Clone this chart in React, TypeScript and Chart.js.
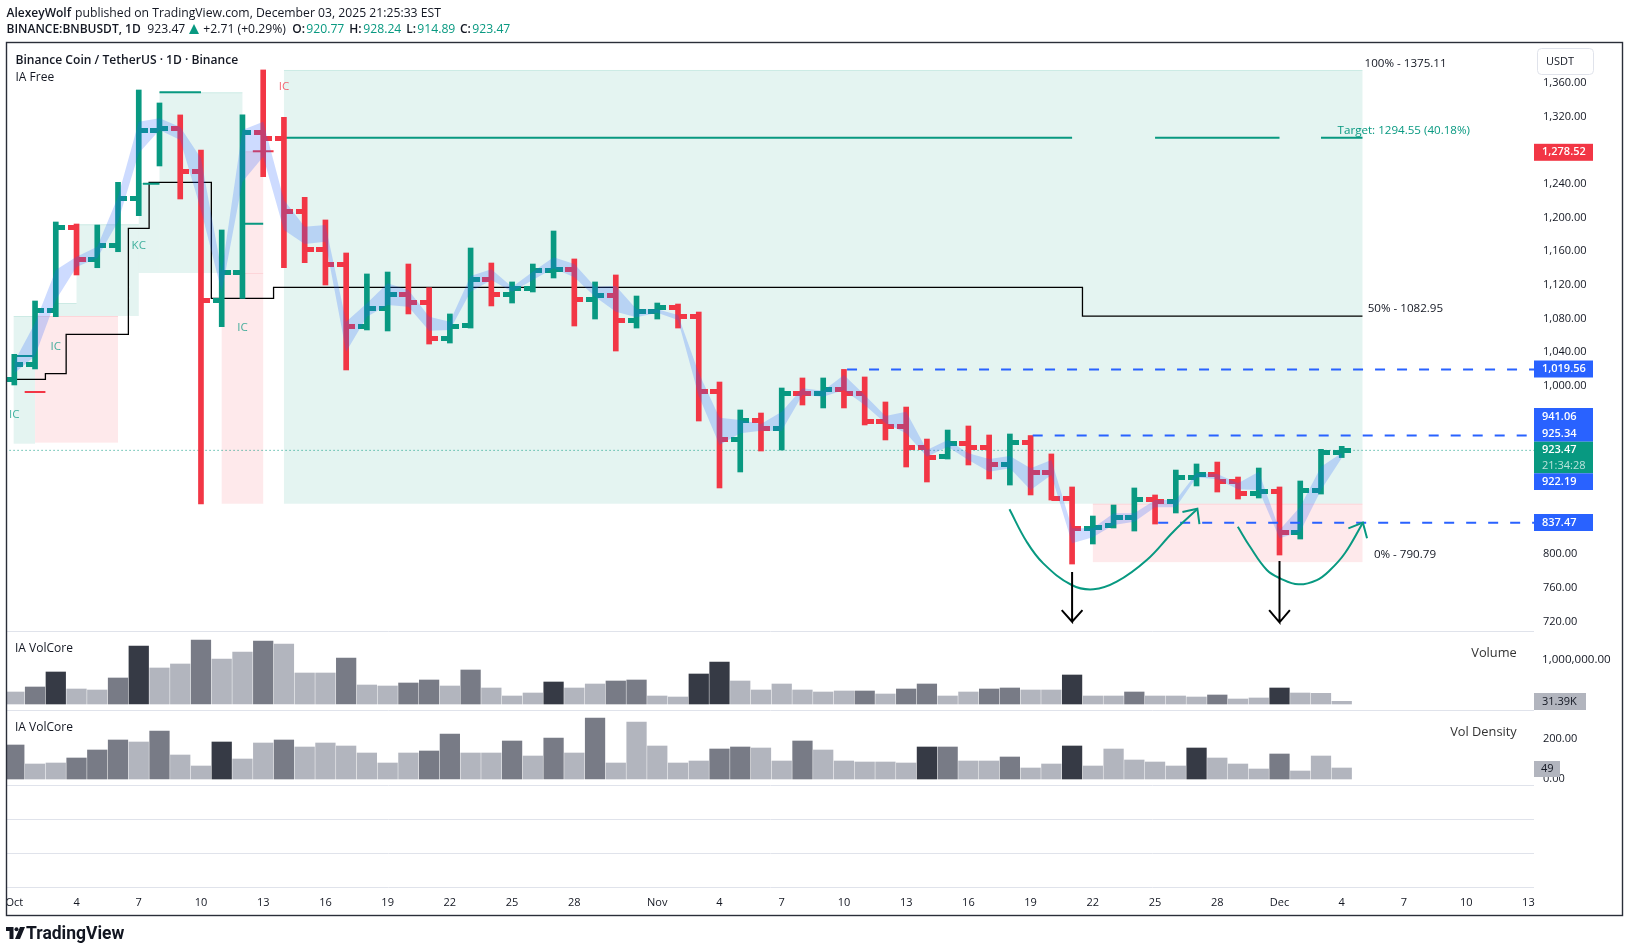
import React, { useEffect, useRef } from "react";
import { Chart, registerables } from "chart.js";

Chart.register(...registerables);

const UP = "#089981";
const DOWN = "#F23645";
const BLUE = "#2962FF";
const TEXT = "#131722";
const FONT = '"Open Sans", sans-serif';
const SHADES = ["#B2B5BE", "#787B86", "#363A45"];

const opens = [1007.8,1025.6,1089.8,1188.3,1150.3,1166.9,1222.7,1303.5,1305.9,1254.8,1101.6,1134.9,1301.1,1294.0,1207.3,1162.2,1144.4,1070.8,1092.1,1108.8,1099.3,1056.5,1072.0,1126.6,1108.8,1115.9,1137.3,1138.4,1102.8,1107.6,1077.9,1088.6,1093.3,1082.6,993.6,936.6,959.2,949.6,991.2,990.9,996.0,991.2,958.0,952.0,927.1,916.4,931.8,927.1,906.9,933.0,897.4,866.5,830.9,834.5,844.0,865.4,863.0,891.5,895.0,886.7,872.5,874.8,826.2,876.0,920.77];
const highs = [1037.5,1100.8,1194.6,1192.2,1191.0,1241.7,1351.3,1335.9,1321.7,1280.1,1185.1,1321.7,1375.11,1318.9,1223.9,1197.0,1157.8,1132.9,1135.2,1144.7,1116.6,1085.4,1163.7,1145.9,1123.4,1144.7,1183.9,1150.7,1123.4,1131.7,1106.7,1098.4,1097.2,1087.7,1004.6,971.4,967.8,997.5,1009.4,1009.4,1019.56,1010.6,980.9,974.9,936.9,947.6,952.4,941.7,942.9,941.06,919.2,880.0,845.5,858.6,878.8,870.5,900.1,907.3,909.6,891.8,902.5,880.0,887.1,924.7,928.24];
const lows = [1001.1,1020.1,1082.2,1131.7,1140.3,1159.3,1202.1,1261.1,1221.9,859.8,1070.3,1104.0,1248.4,1140.3,1146.3,1119.8,1018.9,1066.4,1065.2,1085.4,1049.7,1050.9,1068.7,1094.9,1098.4,1111.5,1128.1,1071.1,1079.4,1041.4,1068.7,1079.4,1068.7,958.3,878.8,897.8,922.7,923.9,977.3,973.8,973.8,953.6,935.8,903.7,885.9,913.2,906.1,889.5,882.3,870.5,864.5,788.5,812.3,831.3,827.7,836.0,849.1,881.2,874.0,865.7,866.9,799.2,818.2,871.6,914.89];
const closes = [1025.6,1089.8,1188.3,1150.3,1166.9,1222.7,1303.5,1305.9,1254.8,1101.6,1134.9,1301.1,1294.0,1207.3,1162.2,1144.4,1070.8,1092.1,1108.8,1099.3,1056.5,1070.8,1126.6,1108.8,1115.9,1137.3,1138.4,1102.8,1107.6,1077.9,1088.6,1093.3,1082.6,993.6,936.6,959.2,949.6,991.2,990.9,996.0,991.2,958.0,952.0,927.1,915.2,931.8,927.1,906.9,933.0,897.4,866.5,830.9,832.1,844.0,865.4,863.0,891.5,895.0,886.7,872.5,874.8,826.2,876.0,920.5,923.47];
const bandUpper = [1028.7,1074.7,1137.6,1153.4,1165.3,1224.6,1313.7,1317.7,1307.4,1270.2,1135.2,1303.8,1313.7,1220.7,1189.0,1191.0,1076.2,1098.1,1121.8,1113.9,1082.2,1076.2,1130.5,1138.4,1117.4,1135.6,1152.7,1144.7,1117.8,1118.6,1090.9,1090.9,1084.2,1015.3,962.2,959.5,954.8,969.4,997.2,994.3,1012.9,989.2,964.2,969.4,923.9,935.8,920.0,913.2,916.8,902.2,912.0,830.9,830.9,848.7,848.7,864.5,864.5,896.2,895.4,884.3,898.1,828.9,856.6,904.1,920.3];
const bandLower = [1015.0,1035.5,1102.0,1141.2,1151.9,1195.0,1276.2,1303.8,1292.0,1208.9,1111.8,1242.5,1272.1,1185.1,1168.5,1171.2,1040.6,1082.2,1096.1,1094.0,1065.5,1066.4,1111.8,1125.7,1111.8,1125.7,1139.6,1128.9,1105.9,1088.1,1081.4,1086.9,1078.2,988.0,929.8,943.7,946.8,946.8,989.2,987.2,995.1,977.3,955.6,943.7,915.9,927.8,912.0,898.1,902.2,876.4,894.2,813.1,820.2,834.8,838.8,855.9,855.9,891.5,889.1,877.2,876.4,819.0,826.9,876.4,914.4];
const volumes = [272700,386400,727300,340900,318200,590900,1318200,818200,909100,1454500,1022700,1181800,1431800,1363600,704500,704500,1045500,431800,409100,477300,545500,409100,772700,363600,181800,250000,500000,363600,454500,522700,545500,181800,159100,681800,954500,522700,318200,454500,318200,272700,295500,295500,227300,340900,454500,181800,272700,340900,363600,318200,318200,659100,181800,181800,272700,181800,181800,159100,204500,113600,136400,363600,250000,242400,60600];
const volumeShade = [0,1,2,0,0,1,2,0,0,1,0,0,1,0,0,0,1,0,0,1,1,0,1,0,0,0,2,0,0,1,1,0,0,2,2,0,0,0,0,0,0,1,0,1,1,0,0,1,1,0,0,2,0,0,1,0,0,0,1,0,0,2,0,0,0];
const density = [170,75,80,105,145,195,185,240,120,65,185,100,180,195,160,180,165,130,80,130,140,225,130,130,190,115,205,130,305,80,285,165,80,90,150,160,155,90,190,145,90,85,85,80,160,160,90,90,110,55,75,165,65,150,95,85,65,155,105,75,50,125,40,115,55];
const densityShade = [1,0,0,1,1,1,0,1,0,0,2,0,0,1,0,0,0,0,0,0,1,1,0,0,1,0,1,0,1,0,0,0,0,0,1,1,0,0,1,0,0,0,0,0,2,1,0,0,1,0,0,2,0,0,0,0,0,2,0,0,0,1,0,0,0];
const priceTicks = [720,760,800,840,880,920,960,1000,1040,1080,1120,1160,1200,1240,1280,1320,1360];
const volumeTicks = [1000000];
const densityTicks = [0,200];
const dayIndexes = [0,3,6,9,12,15,18,21,24,27,31,34,37,40,43,46,49,52,55,58,61,64,67,70,73];
const dayLabels = ["Oct","4","7","10","13","16","19","22","25","28","Nov","4","7","10","13","16","19","22","25","28","Dec","4","7","10","13"];

const targetSegments = [[7,9,1348.6],[6.2,7,1240],[11.1,12,1192.5],[13,51,1294.55],[55,61,1294.55],[63,65,1294.55],[0,1,1035.5]];
const redSegments = [[11.5,12.5,1278.52],[0.5,1.5,992.8]];
const stepLine = [[0,1007.8],[1.5,1014.5],[2.5,1061.2],[5.5,1187],[6.5,1241.7],[9.5,1104],[12.5,1117],[51.5,1082.95],[65,1082.95]];
const dashedLevels = [[40.15,1019.56],[49.1,941.06],[55.15,837.47]];
const lastClose = 923.47;
const curveOne = [[47.98,853.5],[48.81,815],[49.61,789.3],[50.98,763.6],[52.03,758.5],[53.15,767.5],[54.6,793.3],[55.88,826.9],[57.04,853.8]];
const curveOneHead = [[56.32,850.3],[57.04,854.2],[57.14,836]];
const curveTwo = [[58.99,832.8],[59.58,809],[60.39,781.4],[61.03,771.5],[61.91,764.4],[62.8,769.5],[63.44,781.4],[64.16,801.6],[65.02,837.6]];
const curveTwoHead = [[64.32,830.9],[65.02,837.6],[65.22,819]];
const arrowOne = [[51,779],[51,720],[50.5,733.7],[51,720],[51.5,733.7]];
const arrowTwo = [[61,792],[61,719.3],[60.5,733.7],[61,719.3],[61.5,733.7]];
const greenZones = [[-0.03,1,1082.95,931.4],[3,6,1191.9,1082.95],[2,3,1098.4,1082.95],[6,7,1240.9,1134],[7,11,1348.6,1134],[13,65,1375.11,860.1]];
const redZones = [[1,5,1082.95,932.6],[10,12,1134,860.1],[11.15,12,1278.52,1134],[52,65,860.1,790.79]];
const noteLabels: [number, number, string, string, string][] = [
  [65.1, 1382.6, "100% - 1375.11", TEXT, "left"],
  [63.8, 1303, "Target: 1294.55 (40.18%)", UP, "left"],
  [65.25, 1092, "50% - 1082.95", TEXT, "left"],
  [65.55, 799.6, "0% - 790.79", TEXT, "left"],
  [13, 1355.2, "IC", DOWN, "center"],
  [6, 1166.5, "KC", UP, "center"],
  [2, 1046, "IC", UP, "center"],
  [11, 1069, "IC", UP, "center"],
  [0, 966, "IC", UP, "center"],
];

const indexes = opens.map((_, i) => i);
const isUp = (i: number) => closes[i] >= opens[i];
const pts = (list: number[][]) => list.map(([x, y]) => ({ x, y }));
const segs = (list: number[][]) =>
  list.flatMap(([a, b, y]) => [{ x: a, y }, { x: b, y }, { x: b, y: null as any }]);

function tickImage(color: string, left: boolean) {
  const c = document.createElement("canvas");
  c.width = 18;
  c.height = 5;
  const g = c.getContext("2d")!;
  g.fillStyle = color;
  g.fillRect(left ? 0 : 9, 0, 9, 5);
  return c;
}

const money = (v: number) =>
  v.toLocaleString("en-US", { minimumFractionDigits: 2, maximumFractionDigits: 2 });

type Tag = { y0: number; y1: number; x1: number; bg: string; lines: [string, number, string][] };
const tags: Tag[] = [
  { y0: 143.8, y1: 160.8, x1: 1593, bg: DOWN, lines: [["1,278.52", 152.3, "#fff"]] },
  { y0: 360.5, y1: 377.5, x1: 1593, bg: BLUE, lines: [["1,019.56", 369, "#fff"]] },
  { y0: 408, y1: 441.7, x1: 1593, bg: BLUE, lines: [["941.06", 416.7, "#fff"], ["925.34", 434, "#fff"]] },
  { y0: 441.7, y1: 473.3, x1: 1593, bg: UP, lines: [["923.47", 450.3, "#fff"], ["21:34:28", 465.7, "rgba(255,255,255,0.72)"]] },
  { y0: 473.3, y1: 490, x1: 1593, bg: BLUE, lines: [["922.19", 481.7, "#fff"]] },
  { y0: 514, y1: 531, x1: 1593, bg: BLUE, lines: [["837.47", 522.7, "#fff"]] },
  { y0: 693, y1: 710, x1: 1586, bg: "#B2B5BE", lines: [["31.39K", 701.5, TEXT]] },
  { y0: 761, y1: 777, x1: 1560, bg: "#B2B5BE", lines: [["49", 769, TEXT]] },
];
const paneLines = [-30, -200, -370];

const paperPlugin = {
  id: "paper",
  beforeDatasetsDraw(chart: any) {
    const { ctx, scales } = chart;
    const draw = (list: number[][], color: string) => {
      ctx.save();
      ctx.fillStyle = color;
      ctx.strokeStyle = color;
      for (const [a, b, t, u] of list) {
        const x0 = scales.x.getPixelForValue(a);
        const x1 = scales.x.getPixelForValue(b);
        const y0 = scales.y.getPixelForValue(t);
        const y1 = scales.y.getPixelForValue(u);
        ctx.fillRect(x0, y0, x1 - x0, y1 - y0);
        ctx.beginPath();
        ctx.moveTo(x0, y0 + 0.5);
        ctx.lineTo(x1, y0 + 0.5);
        ctx.stroke();
      }
      ctx.restore();
    };
    draw(greenZones, "rgba(8,153,129,0.11)");
    draw(redZones, "rgba(242,54,69,0.11)");
  },
  afterDatasetsDraw(chart: any) {
    const { ctx, scales, chartArea } = chart;
    ctx.save();
    ctx.textBaseline = "middle";
    ctx.font = `11.6px ${FONT}`;
    for (const [i, v, s, color, align] of noteLabels) {
      ctx.fillStyle = color;
      ctx.globalAlpha = s.length === 2 ? 0.75 : 1;
      ctx.textAlign = align as CanvasTextAlign;
      ctx.fillText(s, scales.x.getPixelForValue(i), scales.y.getPixelForValue(v));
    }
    ctx.globalAlpha = 1;
    ctx.textAlign = "left";
    ctx.fillStyle = TEXT;
    ctx.font = `600 12.1px ${FONT}`;
    ctx.fillText("Binance Coin / TetherUS · 1D · Binance", 15.5, 60.7);
    ctx.font = `12px ${FONT}`;
    ctx.fillText("IA Free", 15.5, 77.7);
    ctx.fillText("IA VolCore", 15, 649);
    ctx.fillText("IA VolCore", 15, 727.7);
    ctx.textAlign = "right";
    ctx.font = `12.8px ${FONT}`;
    ctx.fillStyle = "#333";
    ctx.fillText("Volume", 1516.7, 653.3);
    ctx.fillText("Vol Density", 1516.7, 732.3);
    ctx.restore();

    ctx.save();
    ctx.strokeStyle = "#E0E3EB";
    ctx.lineWidth = 1;
    const lines = [scales.vol.top, scales.den.top, ...paneLines.map((v) => scales.den.getPixelForValue(v)), chartArea.bottom];
    ctx.beginPath();
    for (const y of lines) {
      const yy = Math.round(y) + 0.5;
      ctx.moveTo(chartArea.left, yy);
      ctx.lineTo(1534, yy);
    }
    ctx.stroke();
    ctx.restore();
  },
  afterDraw(chart: any) {
    const { ctx, chartArea } = chart;
    ctx.save();
    ctx.textBaseline = "middle";
    ctx.textAlign = "left";
    ctx.font = `600 11px ${FONT}`;
    for (const tag of tags) {
      ctx.fillStyle = tag.bg;
      ctx.fillRect(chartArea.right, tag.y0, tag.x1 - chartArea.right, tag.y1 - tag.y0);
      for (const [s, y, c] of tag.lines) {
        ctx.fillStyle = c;
        ctx.font = s === "21:34:28" || c === TEXT ? `11px ${FONT}` : `600 11px ${FONT}`;
        ctx.fillText(s, chartArea.right + (s === "49" ? 7 : 8), y);
      }
    }
    ctx.font = `11px ${FONT}`;
    ctx.fillStyle = "#fff";
    ctx.strokeStyle = "#E0E3EB";
    ctx.beginPath();
    ctx.roundRect(1537.5, 48.5, 56, 26, 4);
    ctx.fill();
    ctx.stroke();
    ctx.fillStyle = TEXT;
    ctx.fillText("USDT", 1546, 61.7);

    ctx.clearRect(0, chartArea.bottom + 1, 6, 28);
    ctx.strokeStyle = "#2A2E39";
    ctx.lineWidth = 1.4;
    ctx.strokeRect(6.5, 42.5, 1616, 873);
    ctx.restore();
  },
};

export default function App() {
  const ref = useRef<HTMLCanvasElement>(null);
  useEffect(() => {
    const canvas = ref.current!;
    const img = {
      upL: tickImage(UP, true),
      upR: tickImage(UP, false),
      dnL: tickImage(DOWN, true),
      dnR: tickImage(DOWN, false),
    };
    const lineBase = { type: "line", yAxisID: "y", pointRadius: 0, borderWidth: 1, fill: false, tension: 0 };
    const tickStyle = (left: boolean) => (ctx: any) => {
      const up = isUp(ctx.dataIndex);
      return left ? (up ? img.upL : img.dnL) : up ? img.upR : img.dnR;
    };
    const chart = new Chart(canvas, {
      type: "bar",
      data: {
        datasets: [
          { ...lineBase, label: "Arrow A", data: pts(arrowOne), borderColor: "#000", borderWidth: 2, order: 0 },
          { ...lineBase, label: "Arrow B", data: pts(arrowTwo), borderColor: "#000", borderWidth: 2, order: 0 },
          { ...lineBase, label: "Curve A", data: pts(curveOne), borderColor: UP, borderWidth: 2, tension: 0.4, order: 0 },
          { ...lineBase, label: "Curve A head", data: pts(curveOneHead), borderColor: UP, borderWidth: 2, order: 0 },
          { ...lineBase, label: "Curve B", data: pts(curveTwo), borderColor: UP, borderWidth: 2, tension: 0.4, order: 0 },
          { ...lineBase, label: "Curve B head", data: pts(curveTwoHead), borderColor: UP, borderWidth: 2, order: 0 },
          ...dashedLevels.map(([x, y]) => ({
            ...lineBase,
            label: `Level ${y}`,
            data: [{ x, y }, { x: 80, y }],
            borderColor: BLUE,
            borderWidth: 2,
            borderDash: [10, 12],
            order: 1,
          })),
          {
            ...lineBase,
            label: "Band high",
            data: indexes.map((i) => ({ x: i, y: bandUpper[i] })),
            borderWidth: 0,
            borderColor: "transparent",
            backgroundColor: "rgba(41,98,255,0.23)",
            fill: "+1",
            order: 2,
          },
          {
            ...lineBase,
            label: "Band low",
            data: indexes.map((i) => ({ x: i, y: bandLower[i] })),
            borderWidth: 0,
            borderColor: "transparent",
            order: 2,
          },
          {
            type: "line",
            label: "Open",
            yAxisID: "y",
            showLine: false,
            data: indexes.map((i) => ({ x: i, y: opens[i] })),
            pointStyle: tickStyle(true),
            pointRadius: 1,
            order: 3,
          },
          {
            type: "line",
            label: "Close",
            yAxisID: "y",
            showLine: false,
            data: indexes.map((i) => ({ x: i, y: closes[i] })),
            pointStyle: tickStyle(false),
            pointRadius: 1,
            order: 3,
          },
          {
            type: "bar",
            label: "Range",
            yAxisID: "y",
            grouped: false,
            barThickness: 5,
            data: indexes.map((i) => ({ x: i, y: [lows[i], highs[i]] })),
            backgroundColor: indexes.map((i) => (isUp(i) ? UP : DOWN)),
            order: 4,
          },
          { ...lineBase, label: "Targets", data: segs(targetSegments), borderColor: UP, borderWidth: 2, order: 5 },
          { ...lineBase, label: "Marks", data: segs(redSegments), borderColor: DOWN, borderWidth: 2, order: 5 },
          { ...lineBase, label: "Step", data: pts(stepLine), borderColor: "#000", borderWidth: 1.3, stepped: "before", order: 6 },
          {
            ...lineBase,
            label: "Last",
            data: [{ x: -1, y: lastClose }, { x: 80, y: lastClose }],
            borderColor: UP,
            borderDash: [1, 3],
            order: 7,
          },
          {
            type: "bar",
            label: "Volume",
            yAxisID: "vol",
            grouped: false,
            barThickness: 19.6,
            data: indexes.map((i) => ({ x: i, y: volumes[i] })),
            backgroundColor: indexes.map((i) => SHADES[volumeShade[i]]),
            order: 8,
          },
          {
            type: "bar",
            label: "Vol Density",
            yAxisID: "den",
            grouped: false,
            barThickness: 19.6,
            data: indexes.map((i) => ({ x: i, y: density[i] })),
            backgroundColor: indexes.map((i) => SHADES[densityShade[i]]),
            order: 8,
          },
        ] as any,
      },
      options: {
        responsive: false,
        animation: false,
        devicePixelRatio: 1,
        layout: { padding: { left: 7, top: 43, right: 6, bottom: 37 } },
        plugins: { legend: { display: false }, tooltip: { enabled: false } },
        elements: { bar: { borderWidth: 0 } },
        scales: {
          x: {
            type: "linear",
            offset: false,
            min: -0.352,
            max: 73.27,
            grid: { display: false },
            border: { display: false },
            afterBuildTicks: (s: any) => {
              s.ticks = dayIndexes.map((value) => ({ value }));
            },
            afterFit: (s: any) => {
              s.height = 28;
            },
            ticks: {
              autoSkip: false,
              maxRotation: 0,
              padding: 1,
              color: TEXT,
              font: { family: FONT, size: 11 },
              callback: (v: any) => dayLabels[dayIndexes.indexOf(Number(v))],
            },
          },
          y: {
            type: "linear",
            position: "right",
            stack: "panes",
            stackWeight: 588,
            weight: 1,
            min: 709,
            max: 1407.1,
            grid: { display: false },
            border: { display: false },
            afterBuildTicks: (s: any) => {
              s.ticks = priceTicks.map((value) => ({ value }));
            },
            afterFit: (s: any) => {
              s.width = 88;
            },
            ticks: { padding: 1, color: TEXT, font: { family: FONT, size: 11 }, callback: (v: any) => money(Number(v)) },
          },
          vol: {
            type: "linear",
            position: "right",
            stack: "panes",
            stackWeight: 79,
            weight: 2,
            min: -136400,
            max: 1659000,
            grid: { display: false },
            border: { display: false },
            afterBuildTicks: (s: any) => {
              s.ticks = volumeTicks.map((value) => ({ value }));
            },
            afterFit: (s: any) => {
              s.width = 88;
            },
            ticks: { padding: 0, color: TEXT, font: { family: FONT, size: 11.6 }, callback: (v: any) => money(Number(v)) },
          },
          den: {
            type: "linear",
            position: "right",
            stack: "panes",
            stackWeight: 177,
            weight: 3,
            min: -540,
            max: 345,
            grid: { display: false },
            border: { display: false },
            afterBuildTicks: (s: any) => {
              s.ticks = densityTicks.map((value) => ({ value }));
            },
            afterFit: (s: any) => {
              s.width = 88;
            },
            ticks: { padding: 1, color: TEXT, font: { family: FONT, size: 11 }, callback: (v: any) => money(Number(v)) },
          },
        },
      } as any,
      plugins: [paperPlugin as any],
    });
    return () => chart.destroy();
  }, []);

  const span = (left: number, top: number, s: string, style: React.CSSProperties = {}) => (
    <span
      key={`${left}-${top}`}
      style={{ position: "absolute", left, top, lineHeight: "16px", whiteSpace: "nowrap", color: TEXT, fontSize: 12.2, fontFamily: FONT, ...style }}
    >
      {s}
    </span>
  );
  const bold = { fontWeight: 600, fontSize: 12 } as const;
  const green = { color: UP } as const;
  return (
    <div style={{ position: "fixed", left: 0, top: 0, width: 1628, height: 952, background: "#fff", overflow: "hidden" }}>
      <canvas ref={ref} width={1628} height={952} style={{ position: "absolute", left: 0, top: 0, width: 1628, height: 952 }} />
      {span(6.5, 4.5, "AlexeyWolf", bold)}
      {span(75, 4.5, "published on TradingView.com, December 03, 2025 21:25:33 EST")}
      {span(6.5, 21, "BINANCE:BNBUSDT, 1D", bold)}
      {span(147.3, 21, "923.47")}
      <svg style={{ position: "absolute", left: 189, top: 24, width: 10, height: 10 }} viewBox="0 0 10 10">
        <path d="M5 0 L10 10 L0 10 Z" fill={UP} />
      </svg>
      {span(203.3, 21, "+2.71 (+0.29%)")}
      {span(292.3, 21, "O:", bold)}
      {span(306.3, 21, "920.77", green)}
      {span(349.3, 21, "H:", bold)}
      {span(363.3, 21, "928.24", green)}
      {span(406.3, 21, "L:", bold)}
      {span(417.3, 21, "914.89", green)}
      {span(460, 21, "C:", bold)}
      {span(472.3, 21, "923.47", green)}
      <svg style={{ position: "absolute", left: 6, top: 927, width: 19, height: 12 }} viewBox="0 0 19 12">
        <path d="M0 0 H7.5 V12 H3.5 V4 H0 Z M14 0 L19 0 L14 12 L9 12 Z" fill={TEXT} />
        <circle cx="10.5" cy="2.2" r="2" fill={TEXT} />
      </svg>
      {span(26, 923, "TradingView", { fontSize: 17.5, fontWeight: 700, fontFamily: "Roboto, sans-serif", lineHeight: "20px" })}
    </div>
  );
}
